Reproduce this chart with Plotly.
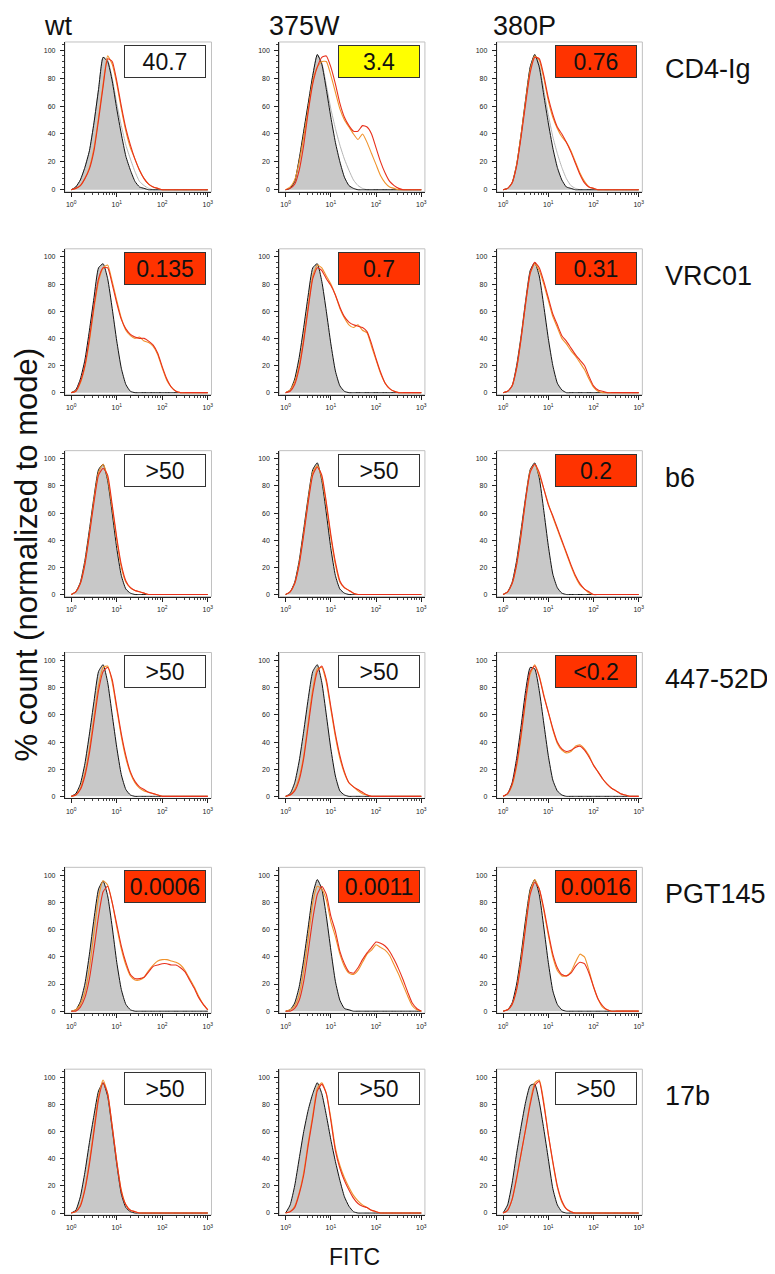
import plotly.graph_objects as go

# ---------------- data ----------------
FITC = [1.0, 1.259, 1.585, 1.995, 2.512, 3.162, 3.981, 5.012, 6.310, 7.943,
        10.0, 12.59, 15.85, 19.95, 25.12, 31.62, 39.81, 50.12, 63.10, 79.43,
        100.0, 125.9, 158.5, 199.5, 251.2, 316.2, 398.1, 501.2, 631.0, 794.3, 1000.0]

COLUMNS = ["wt", "375W", "380P"]
ROWS = ["CD4-Ig", "VRC01", "b6", "447-52D", "PGT145", "17b"]
IC50 = [["40.7", "3.4", "0.76"],
        ["0.135", "0.7", "0.31"],
        [">50", ">50", "0.2"],
        [">50", ">50", "<0.2"],
        ["0.0006", "0.0011", "0.0016"],
        [">50", ">50", ">50"]]
BOX_KIND = [["none", "mid", "high"],
            ["high", "high", "high"],
            ["none", "none", "high"],
            ["none", "none", "high"],
            ["high", "high", "high"],
            ["none", "none", "none"]]
X_TICKS = [1, 10, 100, 1000]
X_TICKTEXT = ["10<sup>0</sup>", "10<sup>1</sup>", "10<sup>2</sup>", "10<sup>3</sup>"]
X_MINOR = [2, 3, 4, 5, 6, 7, 8, 9, 20, 30, 40, 50, 60, 70, 80, 90,
           200, 300, 400, 500, 600, 700, 800, 900]
Y_TICKS = [0, 20, 40, 60, 80, 100]

# CD4-Ig
CD4_WT_CTRL = [0,2,7,16,28,48,72,95,92,78,58,40,24,14,6,2,1,0,0,0,0,0,0,0,0,0,0,0,0,0,0]
CD4_WT_CTRL2 = [0,2,7,16,28,48,72,95,93,80,62,46,32,22,13,6,3,1,0,0,0,0,0,0,0,0,0,0,0,0,0]
CD4_WT_ORANGE = [0,1,3,8,16,30,52,76,96,90,76,58,42,30,22,14,8,4,2,1,0,0,0,0,0,0,0,0,0,0,0]
CD4_WT_RED = [0,1,3,8,15,28,50,74,94,92,78,60,44,32,22,14,8,4,2,1,0,0,0,0,0,0,0,0,0,0,0]
CD4_375W_CTRL = [0,1,6,22,42,62,82,97,90,72,52,34,20,9,3,1,0,0,0,0,0,0,0,0,0,0,0,0,0,0,0]
CD4_375W_CTRL2 = [0,1,6,22,42,62,82,97,91,75,58,44,32,22,14,7,3,1,0,0,0,0,0,0,0,0,0,0,0,0,0]
CD4_375W_ORANGE = [0,2,7,20,38,58,78,88,92,92,82,70,58,50,45,40,36,40,34,26,18,10,5,2,1,0,0,0,0,0,0]
CD4_375W_RED = [0,1,4,14,32,56,76,88,95,96,88,76,62,52,46,42,42,46,45,40,30,20,12,6,3,1,0,0,0,0,0]
CD4_380P_CTRL = [0,1,5,18,40,65,88,97,88,68,48,30,16,7,2,1,0,0,0,0,0,0,0,0,0,0,0,0,0,0,0]
CD4_380P_CTRL2 = [0,1,5,18,40,65,88,97,90,72,54,38,26,16,8,3,1,0,0,0,0,0,0,0,0,0,0,0,0,0,0]
CD4_380P_ORANGE = [0,1,5,18,40,64,86,96,93,80,64,52,44,38,34,28,20,12,6,2,1,0,0,0,0,0,0,0,0,0,0]
CD4_380P_RED = [0,1,5,17,38,62,84,95,94,82,66,54,45,40,34,27,19,11,5,2,1,0,0,0,0,0,0,0,0,0,0]

# VRC01
VRC_WT_CTRL = [0,2,10,24,46,70,92,95,84,62,38,18,6,1,0,0,0,0,0,0,0,0,0,0,0,0,0,0,0,0,0]
VRC_WT_ORANGE = [0,1,7,19,38,62,82,92,94,82,68,55,46,42,40,41,38,37,34,28,18,9,4,1,0,0,0,0,0,0,0]
VRC_WT_RED = [0,1,8,20,40,64,84,92,92,80,66,54,47,43,41,40,40,38,35,29,19,10,4,1,0,0,0,0,0,0,0]
VRC_375W_CTRL = [0,2,10,26,48,72,92,95,82,60,36,16,5,1,0,0,0,0,0,0,0,0,0,0,0,0,0,0,0,0,0]
VRC_375W_ORANGE = [0,2,8,20,40,64,86,94,92,86,80,72,62,55,50,48,50,46,44,34,24,14,7,3,1,0,0,0,0,0,0]
VRC_375W_RED = [0,1,6,18,38,62,84,92,90,84,79,72,63,56,52,50,49,48,45,36,25,15,7,3,1,0,0,0,0,0,0]
VRC_380P_CTRL = [0,1,5,20,42,68,90,96,86,64,40,20,7,2,0,0,0,0,0,0,0,0,0,0,0,0,0,0,0,0,0]
VRC_380P_ORANGE = [0,1,5,18,40,66,88,95,90,80,68,56,48,40,36,31,27,22,17,10,4,1,0,0,0,0,0,0,0,0,0]
VRC_380P_RED = [0,1,5,18,40,66,88,96,92,82,70,58,50,42,38,33,28,24,20,12,5,2,1,0,0,0,0,0,0,0,0]

# b6
B6_WT_CTRL = [0,2,9,25,48,72,92,96,84,60,34,14,4,1,0,0,0,0,0,0,0,0,0,0,0,0,0,0,0,0,0]
B6_WT_ORANGE = [0,2,8,23,45,70,90,96,86,64,40,20,9,5,3,2,1,0,0,0,0,0,0,0,0,0,0,0,0,0,0]
B6_WT_RED = [0,2,8,22,44,68,88,93,88,66,42,22,10,5,3,2,1,0,0,0,0,0,0,0,0,0,0,0,0,0,0]
B6_375W_CTRL = [0,2,9,25,48,72,92,97,84,60,34,14,4,1,0,0,0,0,0,0,0,0,0,0,0,0,0,0,0,0,0]
B6_375W_ORANGE = [0,2,8,23,45,70,90,95,86,66,42,22,9,5,3,1,0,0,0,0,0,0,0,0,0,0,0,0,0,0,0]
B6_375W_RED = [0,2,8,22,44,68,88,94,88,68,44,24,10,5,3,1,0,0,0,0,0,0,0,0,0,0,0,0,0,0,0]
B6_380P_CTRL = [0,2,9,25,48,72,92,97,86,62,36,15,5,1,0,0,0,0,0,0,0,0,0,0,0,0,0,0,0,0,0]
B6_380P_ORANGE = [0,2,8,22,45,70,91,96,88,78,67,57,48,39,30,21,13,7,4,1,0,0,0,0,0,0,0,0,0,0,0]
B6_380P_RED = [0,2,8,22,44,70,90,96,90,78,66,58,49,40,31,22,14,8,4,2,0,0,0,0,0,0,0,0,0,0,0]

# 447-52D
D447_WT_CTRL = [0,2,9,24,46,70,92,97,84,60,36,16,5,1,0,0,0,0,0,0,0,0,0,0,0,0,0,0,0,0,0]
D447_WT_ORANGE = [0,1,6,17,35,58,82,95,96,84,64,44,28,17,10,6,4,3,2,1,0,0,0,0,0,0,0,0,0,0,0]
D447_WT_RED = [0,1,5,15,32,55,78,92,95,86,66,46,30,18,11,7,5,3,2,1,0,0,0,0,0,0,0,0,0,0,0]
D447_375W_CTRL = [0,2,10,26,48,72,92,97,84,60,35,15,4,1,0,0,0,0,0,0,0,0,0,0,0,0,0,0,0,0,0]
D447_375W_ORANGE = [0,1,5,14,30,55,79,94,95,84,64,44,28,17,10,7,4,2,1,0,0,0,0,0,0,0,0,0,0,0,0]
D447_375W_RED = [0,1,4,12,28,52,76,92,96,86,66,46,30,18,10,7,5,3,1,0,0,0,0,0,0,0,0,0,0,0,0]
D447_380P_CTRL = [0,2,10,28,52,78,95,94,78,54,30,12,4,1,0,0,0,0,0,0,0,0,0,0,0,0,0,0,0,0,0]
D447_380P_ORANGE = [0,2,8,22,44,70,90,97,89,75,62,49,39,34,32,33,37,38,35,30,23,18,13,9,6,4,2,1,0,0,0]
D447_380P_RED = [0,2,9,24,46,72,92,96,88,74,62,50,40,35,33,34,36,37,34,29,23,18,13,9,6,4,2,1,0,0,0]

# PGT145
PGT_WT_CTRL = [0,1,7,20,42,68,90,96,85,62,36,16,5,1,0,0,0,0,0,0,0,0,0,0,0,0,0,0,0,0,0]
PGT_WT_ORANGE = [0,1,5,14,32,58,84,96,93,80,62,46,34,26,23,23,25,30,34,37,38,38,37,36,34,30,24,18,11,5,1]
PGT_WT_RED = [0,0,3,10,24,46,70,88,92,80,64,48,36,27,24,24,25,29,33,34,35,35,34,34,32,29,23,17,10,5,1]
PGT_375W_CTRL = [0,1,6,18,38,62,86,97,90,70,45,22,8,2,1,0,0,0,0,0,0,0,0,0,0,0,0,0,0,0,0]
PGT_375W_ORANGE = [0,1,4,12,30,54,80,92,90,82,66,55,42,33,28,27,30,36,42,45,49,47,45,41,34,27,19,11,4,1,0]
PGT_375W_RED = [0,0,2,8,22,44,68,86,92,86,70,59,44,35,29,28,32,38,43,47,51,50,48,44,38,31,23,14,6,2,0]
PGT_380P_CTRL = [0,1,6,20,42,68,90,97,86,62,36,15,5,1,0,0,0,0,0,0,0,0,0,0,0,0,0,0,0,0,0]
PGT_380P_ORANGE = [0,1,5,16,38,64,88,97,90,74,56,40,30,26,26,29,36,42,40,30,18,9,3,1,0,0,0,0,0,0,0]
PGT_380P_RED = [0,1,5,16,36,62,86,95,90,76,58,42,32,27,26,28,33,36,35,28,18,9,4,1,0,0,0,0,0,0,0]

# 17b
B17_WT_CTRL = [0,2,12,30,52,72,90,96,86,62,36,14,4,1,0,0,0,0,0,0,0,0,0,0,0,0,0,0,0,0,0]
B17_WT_ORANGE = [0,1,6,18,38,62,86,98,88,64,38,17,6,2,1,0,0,0,0,0,0,0,0,0,0,0,0,0,0,0,0]
B17_WT_RED = [0,1,5,17,36,60,84,96,88,64,38,16,6,2,1,0,0,0,0,0,0,0,0,0,0,0,0,0,0,0,0]
B17_375W_CTRL = [0,6,20,40,60,76,88,96,88,72,54,38,24,12,5,1,0,0,0,0,0,0,0,0,0,0,0,0,0,0,0]
B17_375W_ORANGE = [0,1,5,15,30,52,72,92,96,88,70,48,35,26,19,13,9,6,4,2,1,0,0,0,0,0,0,0,0,0,0]
B17_375W_RED = [0,1,4,14,28,50,70,90,95,88,68,46,33,24,17,11,7,5,4,2,1,0,0,0,0,0,0,0,0,0,0]
B17_380P_CTRL = [0,6,22,44,64,82,94,95,82,62,40,18,6,1,0,0,0,0,0,0,0,0,0,0,0,0,0,0,0,0,0]
B17_380P_ORANGE = [0,2,10,25,44,62,82,96,98,82,58,37,19,8,3,1,0,0,0,0,0,0,0,0,0,0,0,0,0,0,0]
B17_380P_RED = [0,2,10,26,44,62,80,94,97,80,58,38,20,9,3,1,0,0,0,0,0,0,0,0,0,0,0,0,0,0,0]

# panel table: (control, second control or None, orange, red)
PANELS = [
    [(CD4_WT_CTRL, CD4_WT_CTRL2, CD4_WT_ORANGE, CD4_WT_RED),
     (CD4_375W_CTRL, CD4_375W_CTRL2, CD4_375W_ORANGE, CD4_375W_RED),
     (CD4_380P_CTRL, CD4_380P_CTRL2, CD4_380P_ORANGE, CD4_380P_RED)],
    [(VRC_WT_CTRL, None, VRC_WT_ORANGE, VRC_WT_RED),
     (VRC_375W_CTRL, None, VRC_375W_ORANGE, VRC_375W_RED),
     (VRC_380P_CTRL, None, VRC_380P_ORANGE, VRC_380P_RED)],
    [(B6_WT_CTRL, None, B6_WT_ORANGE, B6_WT_RED),
     (B6_375W_CTRL, None, B6_375W_ORANGE, B6_375W_RED),
     (B6_380P_CTRL, None, B6_380P_ORANGE, B6_380P_RED)],
    [(D447_WT_CTRL, None, D447_WT_ORANGE, D447_WT_RED),
     (D447_375W_CTRL, None, D447_375W_ORANGE, D447_375W_RED),
     (D447_380P_CTRL, None, D447_380P_ORANGE, D447_380P_RED)],
    [(PGT_WT_CTRL, None, PGT_WT_ORANGE, PGT_WT_RED),
     (PGT_375W_CTRL, None, PGT_375W_ORANGE, PGT_375W_RED),
     (PGT_380P_CTRL, None, PGT_380P_ORANGE, PGT_380P_RED)],
    [(B17_WT_CTRL, None, B17_WT_ORANGE, B17_WT_RED),
     (B17_375W_CTRL, None, B17_375W_ORANGE, B17_375W_RED),
     (B17_380P_CTRL, None, B17_380P_ORANGE, B17_380P_RED)],
]

# ---------------- layout constants ----------------
W, H = 775, 1274
COL_PX = [(57, 204), (272, 418), (490, 636)]
ROW_PX = [(34, 184), (241, 387), (443, 589), (645, 791), (860, 1006), (1062, 1208)]
HEADER_X = [50, 297, 518]
BOX_FILL = {"none": "white", "mid": "#ffff00", "high": "#ff3300"}
FONT = "Liberation Sans, Arial, sans-serif"

C_FILL = "#c8c8c8"
C_CTRL = "#111111"
C_CTRL2 = "#b4b4b4"
C_ORANGE = "#f0922b"
C_RED = "#e8301c"

fig = go.Figure()
layout = {}
annotations = []
shapes = []

for r in range(len(ROWS)):
    for c in range(len(COLUMNS)):
        n = r * 3 + c + 1
        xa = "x" if n == 1 else f"x{n}"
        ya = "y" if n == 1 else f"y{n}"
        ctrl, ctrl2, orange, red = PANELS[r][c]
        line_kw = dict(shape="spline", smoothing=0.5)
        if ctrl2 is not None:
            fig.add_trace(go.Scatter(x=FITC, y=ctrl2, mode="lines",
                                     line=dict(color=C_CTRL2, width=1, **line_kw),
                                     xaxis=xa, yaxis=ya, showlegend=False, hoverinfo="skip"))
        fig.add_trace(go.Scatter(x=FITC, y=ctrl, mode="lines", fill="tozeroy",
                                 fillcolor=C_FILL, line=dict(color=C_CTRL, width=1, **line_kw),
                                 xaxis=xa, yaxis=ya, showlegend=False, hoverinfo="skip"))
        fig.add_trace(go.Scatter(x=FITC, y=orange, mode="lines",
                                 line=dict(color=C_ORANGE, width=1.1, **line_kw),
                                 xaxis=xa, yaxis=ya, showlegend=False, hoverinfo="skip"))
        fig.add_trace(go.Scatter(x=FITC, y=red, mode="lines",
                                 line=dict(color=C_RED, width=1.1, **line_kw),
                                 xaxis=xa, yaxis=ya, showlegend=False, hoverinfo="skip"))

        x0, x1 = COL_PX[c]
        t, b = ROW_PX[r]
        key = "" if n == 1 else str(n)
        layout["xaxis" + key] = dict(
            domain=[x0 / W, x1 / W], anchor=ya, type="log", range=[-0.14, 3.08],
            tickvals=X_TICKS, ticktext=X_TICKTEXT, tickfont=dict(size=7, color="#222", family=FONT),
            showline=True, linecolor="#222", linewidth=1, ticks="outside", ticklen=4,
            tickcolor="#222", showgrid=False, zeroline=False, ticklabelstandoff=2,
            minor=dict(tickvals=X_MINOR, ticks="outside", ticklen=2, tickcolor="#444", showgrid=False))
        layout["yaxis" + key] = dict(
            domain=[1 - b / H, 1 - t / H], anchor=xa, range=[-1.5, 106],
            tickvals=Y_TICKS, tickfont=dict(size=7, color="#222", family=FONT),
            showline=True, linecolor="#222", linewidth=1, ticks="outside", ticklen=4,
            tickcolor="#222", showgrid=False, zeroline=False, ticklabelstandoff=3,
            minor=dict(dtick=4, ticks="outside", ticklen=2, tickcolor="#444", showgrid=False))
        shapes.append(dict(type="rect", xref=f"{xa} domain", yref=f"{ya} domain",
                           x0=0, x1=1, y0=0, y1=1, line=dict(color="#c0c0c0", width=1),
                           layer="below"))
        kind = BOX_KIND[r][c]
        annotations.append(dict(
            xref=f"{xa} domain", yref=f"{ya} domain", x=0.965, y=0.98,
            xanchor="right", yanchor="top", text=IC50[r][c], showarrow=False,
            width=78, height=29, bgcolor=BOX_FILL[kind], bordercolor="#333",
            borderwidth=1, borderpad=1, font=dict(size=23, color="#111", family=FONT)))

for c, name in enumerate(COLUMNS):
    annotations.append(dict(xref="paper", yref="paper", x=HEADER_X[c] / W, y=1 - 18 / H,
                            xanchor="center", yanchor="middle", text=name, showarrow=False,
                            font=dict(size=27, color="#111", family=FONT)))
for r, name in enumerate(ROWS):
    t, b = ROW_PX[r]
    annotations.append(dict(xref="paper", yref="paper", x=657 / W, y=1 - (t + 27) / H,
                            xanchor="left", yanchor="middle", text=name, showarrow=False,
                            font=dict(size=27, color="#111", family=FONT)))
annotations.append(dict(xref="paper", yref="paper", x=19 / W, y=1 - 547 / H,
                        xanchor="center", yanchor="middle", text="% count (normalized to mode)",
                        textangle=-90, showarrow=False,
                        font=dict(size=31, color="#111", family=FONT)))
annotations.append(dict(xref="paper", yref="paper", x=347 / W, y=1 - 1250 / H,
                        xanchor="center", yanchor="middle", text="FITC", showarrow=False,
                        font=dict(size=23, color="#111", family=FONT)))

fig.update_layout(width=W, height=H, margin=dict(l=0, r=0, t=0, b=0),
                  paper_bgcolor="white", plot_bgcolor="white",
                  annotations=annotations, shapes=shapes, **layout)
fig.write_html("out.html")
